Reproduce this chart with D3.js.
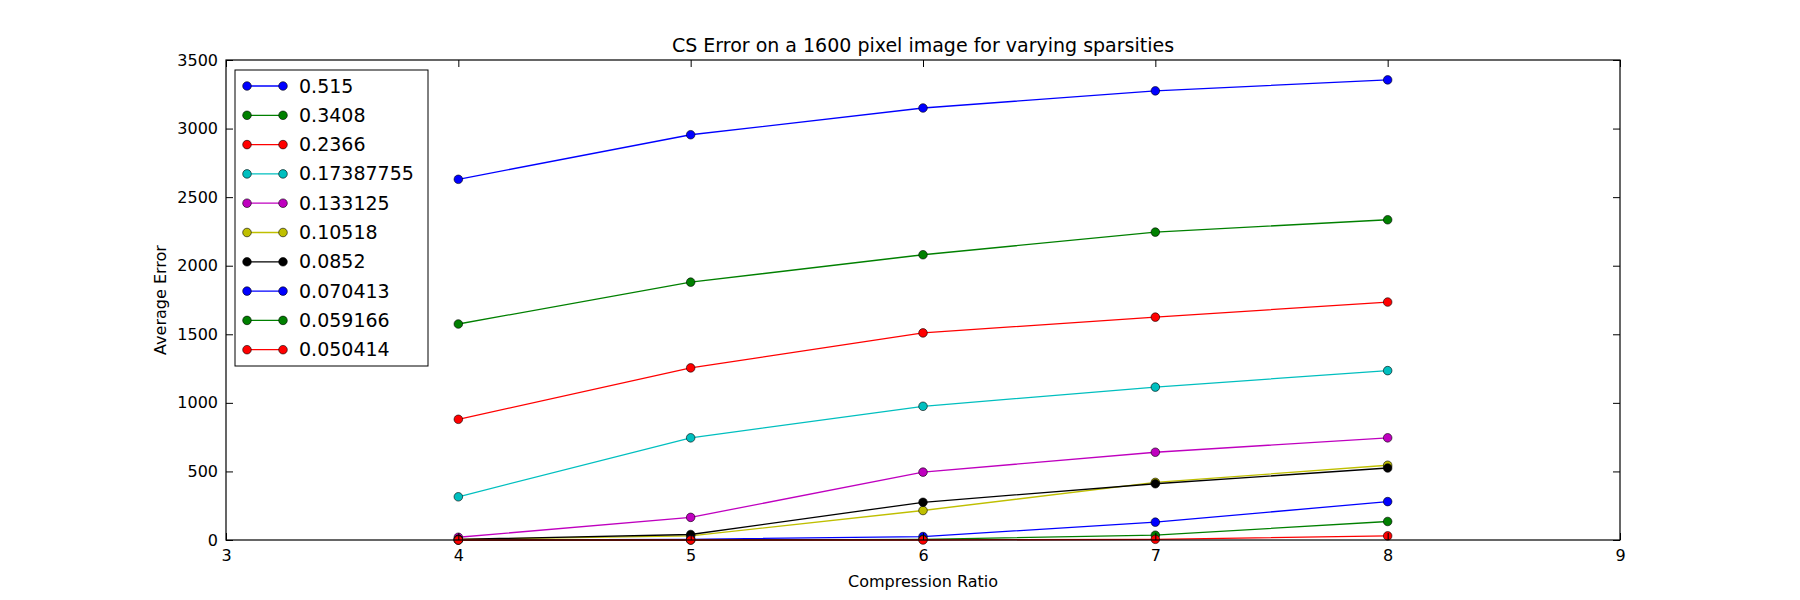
<!DOCTYPE html>
<html><head><meta charset="utf-8">
<script src="https://cdn.jsdelivr.net/npm/d3@7"></script>
<style>body{margin:0;background:#fff}text{font-family:"DejaVu Sans",sans-serif}</style>
</head><body><svg id="c" width="1800" height="600"></svg>
<script>
const ratios=[4,5,6,7,8];
const labels=["0.515","0.3408","0.2366","0.17387755","0.133125","0.10518","0.0852","0.070413","0.059166","0.050414"];
const colors=["#0000ff","#008000","#ff0000","#00bfbf","#bf00bf","#bfbf00","#000000","#0000ff","#008000","#ff0000"];
const s0=[2630,2955,3150,3275,3355];
const s1=[1575,1880,2080,2245,2335];
const s2=[880,1255,1510,1625,1735];
const s3=[315,745,975,1115,1235];
const s4=[20,165,495,640,745];
const s5=[5,30,215,420,545];
const s6=[5,40,275,410,525];
const s7=[0,5,25,130,280];
const s8=[0,0,5,35,135];
const s9=[0,0,0,5,30];
const series=[s0,s1,s2,s3,s4,s5,s6,s7,s8,s9];
const xTicks=[3,4,5,6,7,8,9];
const yTicks=[0,500,1000,1500,2000,2500,3000,3500];

const svg=d3.select("#c");
const L=226,R=1620,T=60,B=540;
const x=d3.scaleLinear().domain([3,9]).range([L,R]);
const y=d3.scaleLinear().domain([0,3500]).range([B,T]);
const line=d3.line().x((d,i)=>x(ratios[i])).y(d=>y(d));
series.forEach((s,k)=>{
  svg.append("path").attr("d",line(s)).attr("fill","none").attr("stroke",colors[k]).attr("stroke-width",1.3);
  svg.selectAll(null).data(s).enter().append("circle").attr("cx",(d,i)=>x(ratios[i])).attr("cy",d=>y(d)).attr("r",4.3)
    .attr("fill",colors[k]).attr("stroke","#000").attr("stroke-width",0.6);
});
const xa=svg.append("g").attr("transform",`translate(0,${B})`).call(d3.axisBottom(x).tickValues(xTicks).tickFormat(d3.format("d")).tickSizeInner(-7).tickSizeOuter(0).tickPadding(10));
const ya=svg.append("g").attr("transform",`translate(${L},0)`).call(d3.axisLeft(y).tickValues(yTicks).tickFormat(d3.format("d")).tickSizeInner(-7).tickSizeOuter(0).tickPadding(8));
[xa,ya].forEach(a=>{a.select(".domain").remove();a.selectAll("text").attr("font-size",16).attr("fill","#000").attr("font-family","DejaVu Sans");});
svg.append("g").attr("transform",`translate(0,${T})`).call(d3.axisTop(x).tickValues(xTicks).tickFormat("").tickSizeInner(-7).tickSizeOuter(0)).select(".domain").remove();
svg.append("g").attr("transform",`translate(${R},0)`).call(d3.axisRight(y).tickValues(yTicks).tickFormat("").tickSizeInner(-7).tickSizeOuter(0)).select(".domain").remove();
svg.append("rect").attr("x",L).attr("y",T).attr("width",R-L).attr("height",B-T).attr("fill","none").attr("stroke","#000").attr("stroke-width",1.2);
svg.append("text").attr("x",(L+R)/2).attr("y",T-8).attr("text-anchor","middle").attr("font-size",19).text("CS Error on a 1600 pixel image for varying sparsities");
svg.append("text").attr("x",(L+R)/2).attr("y",587).attr("text-anchor","middle").attr("font-size",16).text("Compression Ratio");
svg.append("text").attr("transform",`translate(166,${(T+B)/2}) rotate(-90)`).attr("text-anchor","middle").attr("font-size",16).text("Average Error");
const lg=svg.append("g");
lg.append("rect").attr("x",235).attr("y",70).attr("width",193).attr("height",296).attr("fill","#fff").attr("stroke","#000").attr("stroke-width",1);
labels.forEach((lab,k)=>{
  const yy=86+k*29.3;
  lg.append("line").attr("x1",247).attr("x2",283).attr("y1",yy).attr("y2",yy).attr("stroke",colors[k]).attr("stroke-width",1.3);
  [247,283].forEach(cx=>lg.append("circle").attr("cx",cx).attr("cy",yy).attr("r",4.3).attr("fill",colors[k]).attr("stroke","#000").attr("stroke-width",0.6));
  lg.append("text").attr("x",299).attr("y",yy+6.5).attr("font-size",19).text(lab);
});
</script></body></html>
